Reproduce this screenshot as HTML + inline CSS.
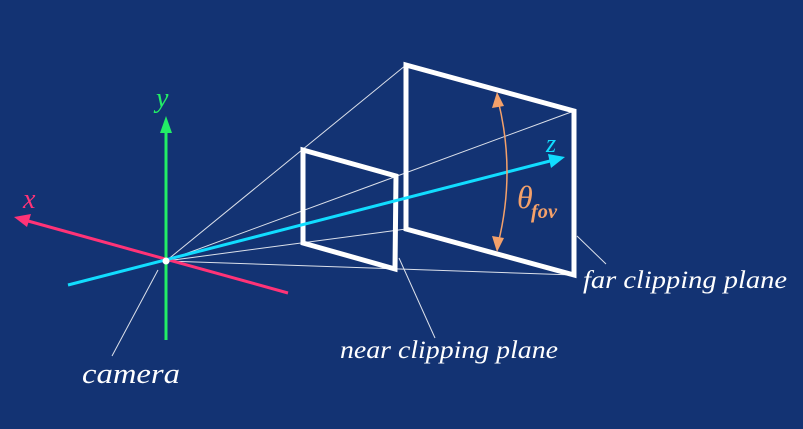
<!DOCTYPE html>
<html><head><meta charset="utf-8"><style>body{margin:0;background:#133373}svg{display:block}text{font-family:"Liberation Serif",serif;font-style:italic}</style></head><body>
<svg width="803" height="429" viewBox="0 0 803 429" xmlns="http://www.w3.org/2000/svg">
<rect width="803" height="429" fill="#133373"/>
<g stroke="#fff" stroke-width="1" opacity="0.85">
<line x1="166" y1="261" x2="406" y2="65"/>
<line x1="166" y1="261" x2="574" y2="111"/>
<line x1="166" y1="261" x2="574" y2="275"/>
<line x1="166" y1="261" x2="406" y2="229"/>
<line x1="158" y1="270" x2="112" y2="356"/>
<line x1="399" y1="258" x2="435" y2="338"/>
<line x1="577" y1="236" x2="606" y2="264"/>
</g>
<g fill="none" stroke="#fff" stroke-width="5" stroke-linejoin="miter">
<polygon points="303,150 396,176 395,269 303,243"/>
<polygon points="406,65 574,111 574,275 406,229"/>
</g>
<line x1="166" y1="340" x2="166" y2="132" stroke="#22ee66" stroke-width="3"/>
<polygon points="166,116 160,133 172,133" fill="#22ee66"/>
<line x1="288" y1="293" x2="28" y2="221" stroke="#ff3377" stroke-width="3"/>
<polygon points="14,217 31,214 27,227" fill="#ff3377"/>
<line x1="68" y1="285" x2="550" y2="161" stroke="#11ddff" stroke-width="3"/>
<polygon points="565,157 548,154 551,168" fill="#11ddff"/>
<circle cx="166" cy="261" r="3.5" fill="#fff"/>
<path d="M498,100 Q516,172 498,244" fill="none" stroke="#f4a16a" stroke-width="1.5"/>
<polygon points="497,92 492,108 504,106" fill="#f4a16a"/>
<polygon points="497,252 492,236 504,238" fill="#f4a16a"/>
<text x="156" y="107" font-size="28" fill="#22ee66">y</text>
<text x="23" y="208" font-size="28" fill="#ff3377">x</text>
<text x="546" y="152" font-size="26" fill="#11ddff">z</text>
<text x="517" y="208" font-size="32" fill="#f4a16a">θ</text>
<text x="531" y="218" font-size="20" font-weight="bold" fill="#f4a16a" textLength="26" lengthAdjust="spacingAndGlyphs">fov</text>
<text x="82" y="383" font-size="28" fill="#fff" textLength="98" lengthAdjust="spacingAndGlyphs">camera</text>
<text x="340" y="358" font-size="25" fill="#fff" textLength="218" lengthAdjust="spacingAndGlyphs">near clipping plane</text>
<text x="583" y="288" font-size="25" fill="#fff" textLength="204" lengthAdjust="spacingAndGlyphs">far clipping plane</text>
</svg>
</body></html>
